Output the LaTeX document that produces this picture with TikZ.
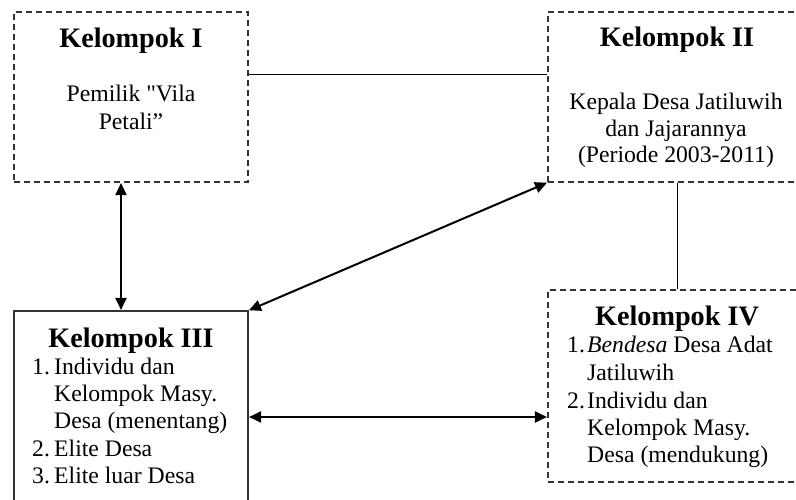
\documentclass[tikz,border=0pt]{standalone}
\usepackage{fontspec}
\setmainfont{Liberation Serif}
% same face without TeX ligature mapping, for a straight double quote
\newfontfamily\rawserif{Liberation Serif}
\usetikzlibrary{arrows.meta}
\definecolor{linegray}{HTML}{333333}
\begin{document}
\begin{tikzpicture}[x=1pt,y=-1pt,
  groupbox/.style={draw=linegray, line width=1.1pt, dash pattern=on 6pt off 4pt, inner sep=0pt},
  solidbox/.style={draw=linegray, line width=1.1pt, inner sep=0pt},
  grouptitle/.style={font=\fontsize{28.2}{32}\selectfont\bfseries, anchor=base, inner sep=0pt},
  bodyline/.style={font=\fontsize{23.7}{27}\selectfont, anchor=base, inner sep=0pt},
  itemline/.style={font=\fontsize{23.7}{27}\selectfont, anchor=base west, inner sep=0pt},
  thinlink/.style={draw=black, line width=1pt},
  twoway/.style={draw=black, line width=2pt, {Triangle[length=12pt,width=11pt]}-{Triangle[length=12pt,width=11pt]}, shorten <=0.5pt, shorten >=0.5pt}]
  \clip (0,0) rectangle (796,500);

  % group boxes
  \node[groupbox, minimum width=234pt, minimum height=170pt] (bI)   at (131,97)  {};
  \node[groupbox, minimum width=258pt, minimum height=170pt] (bII)  at (677,97)  {};
  \node[solidbox, minimum width=234pt, minimum height=210pt] (bIII) at (131,416) {};
  \node[groupbox, minimum width=258pt, minimum height=192pt] (bIV)  at (677,386) {};

  % Kelompok I
  \node[grouptitle] (tI) at (131,48) {Kelompok I};
  \node[bodyline] (tIa) at (131,102) {Pemilik {\rawserif"}Vila};
  \node[bodyline] (tIb) at (131,130) {Petali”};

  % Kelompok II
  \node[grouptitle] (tII) at (677,47) {Kelompok II};
  \node[bodyline] (tIIa) at (676,110) {Kepala Desa Jatiluwih};
  \node[bodyline] (tIIb) at (676,137) {dan Jajarannya};
  \node[bodyline] (tIIc) at (676,163) {(Periode 2003-2011)};

  % Kelompok III
  \node[grouptitle] (tIII) at (131,347) {Kelompok III};
  \node[itemline] (nIIIa) at (32,374) {1.};
  \node[itemline] (tIIIa) at (54,374) {Individu dan};
  \node[itemline] (tIIIb) at (54,401) {Kelompok Masy.};
  \node[itemline] (tIIIc) at (54,428) {Desa (menentang)};
  \node[itemline] (nIIIb) at (32,456) {2.};
  \node[itemline] (tIIId) at (54,456) {Elite Desa};
  \node[itemline] (nIIIc) at (32,483) {3.};
  \node[itemline] (tIIIe) at (54,483) {Elite luar Desa};

  % Kelompok IV
  \node[grouptitle] (tIV) at (677,325) {Kelompok IV};
  \node[itemline] (nIVa) at (567,352) {1.};
  \node[itemline] (tIVa) at (587,352) {\textit{Bendesa} Desa Adat};
  \node[itemline] (tIVb) at (587,380) {Jatiluwih};
  \node[itemline] (nIVb) at (567,408) {2.};
  \node[itemline] (tIVc) at (587,408) {Individu dan};
  \node[itemline] (tIVd) at (587,435) {Kelompok Masy.};
  \node[itemline] (tIVe) at (587,462) {Desa (mendukung)};

  % relations
  \draw[thinlink] (bI.east |- 0,75) -- (bII.west |- 0,75);
  \draw[thinlink] (bII.south) -- (bIV.north);
  \draw[twoway] (bI.south -| 121,0) -- (bIII.north -| 121,0);
  \draw[twoway] (bIII.north east) -- (bII.south west);
  \draw[twoway] (bIII.east |- 0,417) -- (bIV.west |- 0,417);
\end{tikzpicture}
\end{document}
